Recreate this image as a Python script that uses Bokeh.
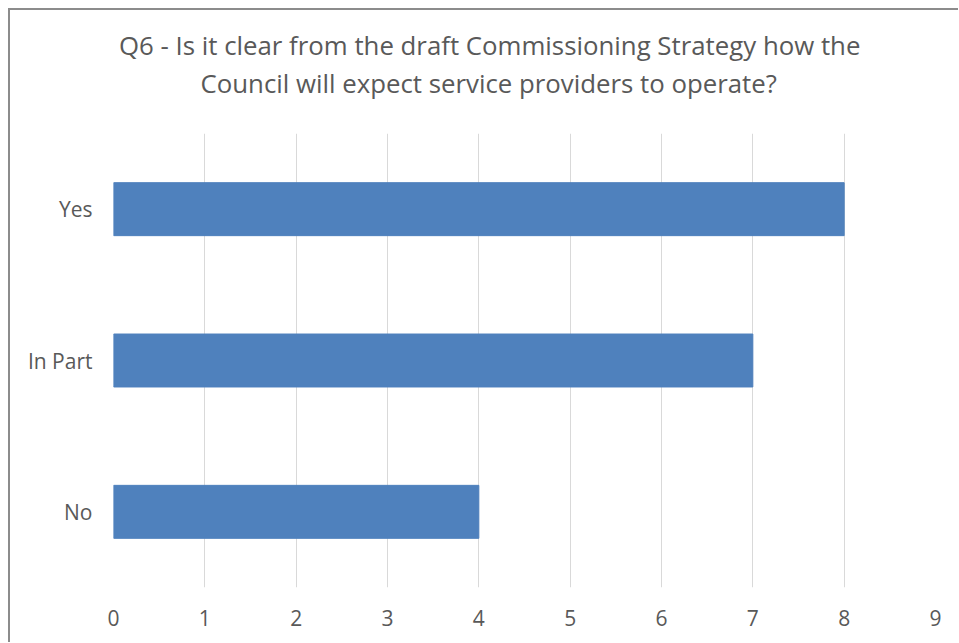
from bokeh.plotting import figure
from bokeh.models import ColumnDataSource, FactorRange, Range1d, FixedTicker, Title
from bokeh.embed import file_html
from bokeh.resources import INLINE

categories = ["No", "In Part", "Yes"]
counts = [4, 7, 8]
x_ticks = [0, 1, 2, 3, 4, 5, 6, 7, 8, 9]
title_line1 = "Q6 - Is it clear from the draft Commissioning Strategy how the"
title_line2 = "Council will expect service providers to operate?"

FONT = "Open Sans"
TXT = "#595959"
BORDER = "#8C8C8C"

source = ColumnDataSource(data=dict(cat=categories, val=counts))

p = figure(width=958, height=642, output_backend="svg", toolbar_location=None,
           y_range=FactorRange(*categories, range_padding=0.0),
           x_range=Range1d(0, 9),
           min_border_left=113, min_border_right=23, min_border_top=133, min_border_bottom=55)

p.hbar(y="cat", right="val", left=0, height=0.35, source=source,
       fill_color="#4F81BD", line_color="#4F81BD")

def style_title(t, offset, standoff, size="25.8px"):
    t.align = "left"
    t.offset = offset
    t.standoff = standoff
    t.text_font = FONT
    t.text_font_size = size
    t.text_font_style = "normal"
    t.text_color = TXT

# default title sits farthest from the plot; added titles stack outward from the frame
p.title.text = title_line1
style_title(p.title, 5.5, 0)
spacer = Title(text=" ")
style_title(spacer, 0, 30, size="1px")
p.add_layout(spacer, "above")
t2 = Title(text=title_line2)
style_title(t2, 87, 0)
p.add_layout(t2, "above")

p.xaxis.ticker = FixedTicker(ticks=x_ticks)
p.xaxis.axis_line_color = None
p.xaxis.major_tick_line_color = None
p.xaxis.minor_tick_line_color = None
p.xaxis.major_label_text_font = FONT
p.xaxis.major_label_text_font_size = "21px"
p.xaxis.major_label_text_color = TXT
p.xaxis.major_label_standoff = 16

p.yaxis.axis_line_color = None
p.yaxis.major_tick_line_color = None
p.yaxis.major_label_text_font = FONT
p.yaxis.major_label_text_font_size = "21px"
p.yaxis.major_label_text_color = TXT
p.yaxis.major_label_standoff = 15

p.xgrid.grid_line_color = "#D9D9D9"
p.xgrid.grid_line_width = 1
p.ygrid.grid_line_color = None
p.outline_line_color = None
p.background_fill_color = "white"
p.border_fill_color = None
p.styles = {
    "background": ("linear-gradient(%s,%s) 8px 8px / 2px 100%% no-repeat, "
                   "linear-gradient(%s,%s) 8px 8px / 100%% 2px no-repeat, white")
                  % (BORDER, BORDER, BORDER, BORDER)
}

open("out.html", "w").write(file_html(p, INLINE))
